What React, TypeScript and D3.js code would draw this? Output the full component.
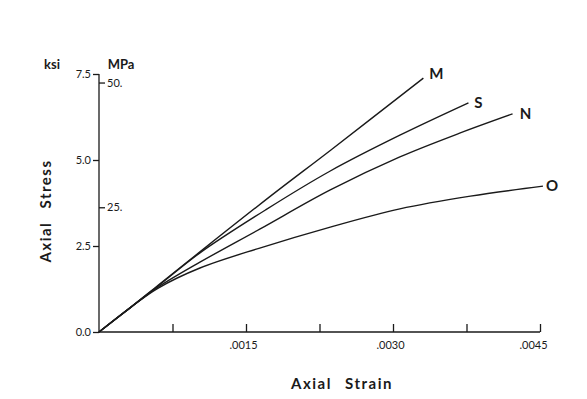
import React, { useEffect, useRef } from "react";
import * as d3 from "d3";

// strain values (unitless) and stress (ksi)
const strainM = [0, 0.00032, 0.0006, 0.00103, 0.00175, 0.00237, 0.00331];
const stressM = [0, 0.71, 1.35, 2.33, 3.95, 5.3, 7.38];
const strainS = [0, 0.00032, 0.0006, 0.00103, 0.0017, 0.00236, 0.00307, 0.00377];
const stressS = [0, 0.71, 1.33, 2.3, 3.55, 4.68, 5.72, 6.66];
const strainN = [0, 0.00032, 0.0006, 0.00103, 0.00164, 0.00236, 0.00307, 0.00368, 0.00422];
const stressN = [0, 0.71, 1.3, 2.03, 2.99, 4.13, 5.09, 5.78, 6.34];
const strainO = [0, 0.00032, 0.0006, 0.00103, 0.00164, 0.00236, 0.00307, 0.00379, 0.00453];
const stressO = [0, 0.71, 1.27, 1.86, 2.44, 3.05, 3.58, 3.95, 4.24];

const seriesNames = ["M", "S", "N", "O"];
const xTicks = [0.00075, 0.0015, 0.00225, 0.003, 0.00375, 0.0045];
const xTickLabels = ["", ".0015", "", ".0030", "", ".0045"];
const ksiTicks = [0, 2.5, 5, 7.5];
const mpaTicks = [25, 50];

const KSI_TO_MPA = 6.894757;

export default function App() {
  const svgRef = useRef<SVGSVGElement>(null);

  useEffect(() => {
    const svg = d3.select(svgRef.current);
    svg.selectAll("*").remove();

    const font = "Lato, 'Open Sans', sans-serif";
    const ink = "#1a1a1a";

    const x = d3.scaleLinear().domain([0, 0.0045]).range([99, 540]);
    const y = d3.scaleLinear().domain([0, 7.5]).range([332, 74]);
    const yMpa = d3.scaleLinear().domain([0, 7.5 * KSI_TO_MPA]).range([332, 74]);

    // x axis with ticks pointing up
    const xAxis = d3
      .axisBottom(x)
      .tickValues(xTicks)
      .tickSizeInner(-8)
      .tickSizeOuter(0)
      .tickPadding(9)
      .tickFormat((d, i) => xTickLabels[i]);
    const gx = svg.append("g").attr("transform", `translate(0,${y(0)})`).call(xAxis);
    gx.select(".domain").attr("d", `M${x(0)},0H${x(0.0045)}`);
    gx.selectAll(".tick text").attr("dx", (d, i) => (i === 5 ? -7 : -3));

    const gl = svg
      .append("g")
      .attr("transform", `translate(${x(0)},0)`)
      .call(
        d3.axisLeft(y).tickValues(ksiTicks).tickSize(6).tickSizeOuter(0).tickPadding(2)
          .tickFormat(d3.format(".1f"))
      );
    gl.select(".domain").attr("d", `M0,${y(0)}V${y(7.5)}`);

    const gr = svg
      .append("g")
      .attr("transform", `translate(${x(0)},0)`)
      .call(
        d3.axisRight(yMpa).tickValues(mpaTicks).tickSize(6).tickSizeOuter(0).tickPadding(2)
          .tickFormat((d) => `${d}.`)
      );
    gr.select(".domain").remove();

    [gx, gl, gr].forEach((g) => {
      g.selectAll("path,line").attr("stroke", ink).attr("stroke-width", 1.3);
      g.selectAll("text")
        .attr("fill", ink)
        .style("font-family", font)
        .style("font-size", "11px");
    });

    const series = [
      strainM.map((s, i) => [s, stressM[i]]),
      strainS.map((s, i) => [s, stressS[i]]),
      strainN.map((s, i) => [s, stressN[i]]),
      strainO.map((s, i) => [s, stressO[i]]),
    ];
    const labelOffset = [
      [13, -5],
      [10, -1],
      [13, -1],
      [9, -1],
    ];

    const lineGen = d3
      .line<number[]>()
      .x((d) => x(d[0]))
      .y((d) => y(d[1]))
      .curve(d3.curveCatmullRom.alpha(0.5));

    svg
      .selectAll(".curve")
      .data(series)
      .join("path")
      .attr("class", "curve")
      .attr("d", lineGen)
      .attr("fill", "none")
      .attr("stroke", ink)
      .attr("stroke-width", 1.4);

    svg
      .selectAll(".curve-label")
      .data(series)
      .join("text")
      .attr("class", "curve-label")
      .attr("x", (d, i) => x(d[d.length - 1][0]) + labelOffset[i][0])
      .attr("y", (d, i) => y(d[d.length - 1][1]) + labelOffset[i][1])
      .attr("text-anchor", "middle")
      .attr("dominant-baseline", "central")
      .attr("fill", ink)
      .style("font-family", font)
      .style("font-size", "15px")
      .style("font-weight", "bold")
      .text((d, i) => seriesNames[i]);

    // unit labels
    svg.append("text").attr("x", 52).attr("y", 69).attr("text-anchor", "middle")
      .attr("fill", ink).style("font-family", font).style("font-size", "13px")
      .style("font-weight", "bold").text("ksi");
    svg.append("text").attr("x", 121).attr("y", 69).attr("text-anchor", "middle")
      .attr("fill", ink).style("font-family", font).style("font-size", "13px")
      .style("font-weight", "bold").text("MPa");

    // axis titles
    svg.append("text").attr("x", 342).attr("y", 389).attr("text-anchor", "middle")
      .attr("fill", ink).style("font-family", font).style("font-size", "15px")
      .style("font-weight", "bold").style("letter-spacing", "1.5px")
      .style("word-spacing", "8px").text("Axial Strain");
    svg.append("text")
      .attr("transform", "translate(51,211) rotate(-90)")
      .attr("text-anchor", "middle")
      .attr("fill", ink).style("font-family", font).style("font-size", "15px")
      .style("font-weight", "bold").style("letter-spacing", "1.5px")
      .style("word-spacing", "8px").text("Axial Stress");
  }, []);

  return (
    <svg
      ref={svgRef}
      width={587}
      height={399}
      style={{ position: "absolute", left: 0, top: 0, background: "#fff" }}
    />
  );
}
